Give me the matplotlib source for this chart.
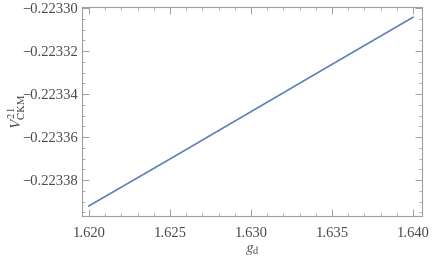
import matplotlib
matplotlib.use("Agg")
import matplotlib.pyplot as plt
from matplotlib.ticker import MultipleLocator, AutoMinorLocator, FuncFormatter

plt.rcParams["font.family"] = ["Liberation Serif", "DejaVu Serif"]
plt.rcParams["mathtext.fontset"] = "stix"

g_d = [1.620, 1.625, 1.630, 1.635, 1.640]
v21 = [-0.2233920, -0.2233702, -0.2233482, -0.2233262, -0.2233043]

frame_col = "#a0a0a0"
text_col = "#4a4a4a"

fig = plt.figure(figsize=(4.32, 2.57), dpi=100)
ax = fig.add_axes([0.1898, 0.1595, 0.787, 0.8133])
ax.plot(g_d, v21, color="#5e81b5", lw=1.2)

ax.set_xlim(1.61957, 1.64056)
ax.set_ylim(-0.2233967, -0.2232995)
ax.xaxis.set_major_locator(MultipleLocator(0.005))
ax.xaxis.set_minor_locator(AutoMinorLocator(5))
ax.yaxis.set_major_locator(MultipleLocator(0.00002))
ax.yaxis.set_minor_locator(AutoMinorLocator(4))
ax.xaxis.set_major_formatter(FuncFormatter(lambda v, p: f"{v:.3f}"))
ax.yaxis.set_major_formatter(FuncFormatter(lambda v, p: f"{v:.5f}".replace("-", "\u2212")))

for s in ax.spines.values():
    s.set_color(frame_col)
    s.set_linewidth(0.8)
ax.tick_params(which="both", direction="in", color=frame_col, labelcolor=text_col,
               top=True, right=True, labelsize=10.5)
ax.tick_params(which="major", length=5, width=0.7)
ax.tick_params(which="minor", length=2.5, width=0.6)
ax.tick_params(axis="x", which="major", pad=8)
ax.tick_params(axis="y", which="major", pad=3)

ax.set_xlabel(r"$g_{\mathrm{d}}$", color=text_col, fontsize=11, labelpad=2)
ax.set_ylabel(r"$V^{21}_{\mathrm{CKM}}$", color=text_col, fontsize=11, labelpad=-4)

fig.savefig("out.png", dpi=100)
